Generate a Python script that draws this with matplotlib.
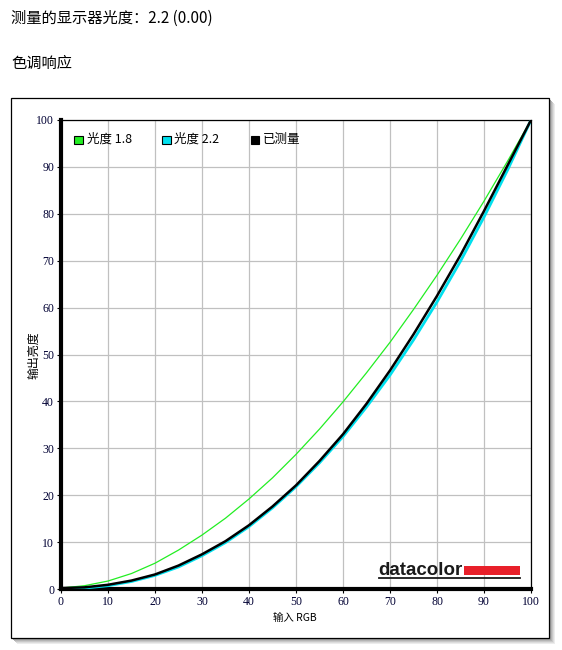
import numpy as np
import matplotlib.pyplot as plt
from matplotlib.patches import Rectangle
from matplotlib.lines import Line2D

# input RGB (%), every 5 units
rgb_in = [0, 5, 10, 15, 20, 25, 30, 35, 40, 45, 50,
          55, 60, 65, 70, 75, 80, 85, 90, 95, 100]
gamma_18 = [0.2, 0.7, 1.7, 3.3, 5.5, 8.3, 11.5, 15.1, 19.2, 23.7, 28.7,
            34.1, 39.9, 46.1, 52.6, 59.6, 66.9, 74.6, 82.7, 91.2, 100]
gamma_22 = [0.1, 0.2, 0.7, 1.6, 2.9, 4.7, 7.1, 9.9, 13.3, 17.3, 21.8,
            26.9, 32.5, 38.8, 45.6, 53.1, 61.2, 69.9, 79.3, 89.3, 100]
measured = [0.2, 0.35, 0.9, 1.8, 3.1, 5.0, 7.4, 10.2, 13.6, 17.6, 22.1,
            27.3, 33.0, 39.5, 46.6, 54.3, 62.5, 71.2, 80.6, 90.3, 100]

x_ticks = list(range(0, 101, 10))
y_ticks = list(range(0, 101, 10))

legend_labels = ['光度 1.8', '光度 2.2', '已测量']
colors = ['#22ee22', '#00e0ee', '#000000']

plt.rcParams['font.family'] = ['Noto Sans CJK SC', 'DejaVu Sans']

W, H = 562, 650
fig = plt.figure(figsize=(W / 100, H / 100), dpi=100)

def fx(px):
    return px / W

def fy(py):
    return 1 - py / H

# title lines
fig.text(fx(11), fy(18), '测量的显示器光度：2.2 (0.00)', fontsize=11, va='center', ha='left')
fig.text(fx(11), fy(63), '色调响应', fontsize=11, va='center', ha='left')

# panel shadow + frame, kept behind the axes
for off, c in [(6, '#ececec'), (5, '#dcdcdc'), (4, '#c8c8c8'), (3, '#b4b4b4'), (2, '#a0a0a0')]:
    fig.add_artist(Rectangle((fx(11 + off), fy(638 + off)), 538 / W, 540 / H,
                             transform=fig.transFigure, facecolor=c, edgecolor='none',
                             zorder=-3))
fig.add_artist(Rectangle((fx(11), fy(638)), 538 / W, 540 / H, transform=fig.transFigure,
                         facecolor='white', edgecolor='black', lw=0.9, zorder=-2))

ax = fig.add_axes([fx(61), fy(589), 470 / W, 469 / H])
ax.set_xlim(0, 100)
ax.set_ylim(0, 100)

ax.plot(rgb_in, gamma_18, color=colors[0], lw=0.9, zorder=3)
ax.plot(rgb_in, gamma_22, color=colors[1], lw=2.0, zorder=4)
ax.plot(rgb_in, measured, color=colors[2], lw=1.8, zorder=5)

ax.set_xticks(x_ticks)
ax.set_yticks(y_ticks)
ax.set_xticklabels([str(v) for v in x_ticks], family='Liberation Serif', fontsize=8.5, color='#000033')
ax.set_yticklabels([str(v) for v in y_ticks], family='Liberation Serif', fontsize=8.5, color='#000033')
ax.tick_params(direction='out', length=3, width=0.8, pad=2)
ax.grid(True, color='#c0c0c0', lw=0.9)
ax.set_axisbelow(True)
ax.spines['left'].set_linewidth(3.0)
ax.spines['bottom'].set_linewidth(3.0)
ax.spines['top'].set_linewidth(0.9)
ax.spines['right'].set_linewidth(0.9)

# legend row
for i, (lab, c) in enumerate(zip(legend_labels, colors)):
    sx = [74.3, 162.0, 250.7][i]
    ax.add_patch(Rectangle(((sx - 61) / 470, (589 - 144) / 469), 8.5 / 470, 8.5 / 469,
                           transform=ax.transAxes, facecolor=c, edgecolor='black', lw=0.8,
                           zorder=6))
    ax.text((sx + 12.5 - 61) / 470, (589 - 139.5) / 469, lab, transform=ax.transAxes,
            fontsize=9, va='center', ha='left', zorder=6)

# datacolor mark
fig.text(fx(378), fy(575), 'datacolor', fontsize=13.5, fontweight='bold',
         family='Liberation Sans', color='#1a1a1a', va='baseline', ha='left', zorder=5)
fig.add_artist(Rectangle((fx(464), fy(575)), 56 / W, 9 / H, transform=fig.transFigure,
                         facecolor='#e8202a', edgecolor='none', zorder=5))
fig.add_artist(Line2D([fx(379), fx(520)], [fy(577.5), fy(577.5)], transform=fig.transFigure,
                      color='#1a1a1a', lw=1.3, zorder=5))

# axis labels
fig.text(fx(34), fy(355), '输出亮度', fontsize=8.6, rotation=90, va='center', ha='center')
fig.text(fx(295), fy(618), '输入 RGB', fontsize=7.5, va='center', ha='center')

fig.savefig('out.png', dpi=100)
